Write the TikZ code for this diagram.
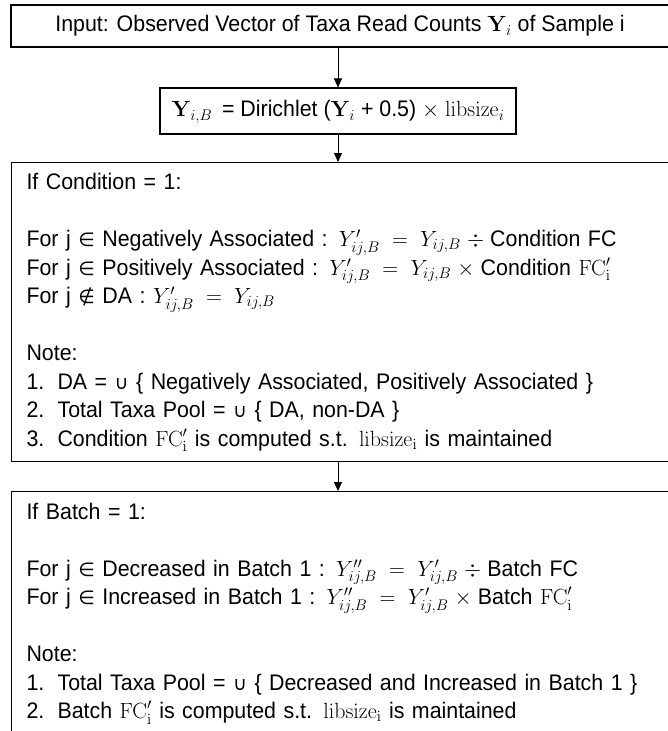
\RequirePackage{fix-cm}
\documentclass[tikz,border=0pt]{standalone}
\usepackage[no-math]{fontspec}
\setmainfont[FakeStretch=0.95]{Liberation Sans}
\newfontfamily\symfont{DejaVu Sans}
\usetikzlibrary{arrows.meta}
\newcommand{\numitem}[1]{\makebox[31pt][l]{#1}}
\newcommand{\sym}[1]{{\symfont\fontsize{19}{28.5}\selectfont #1}}
\newcommand{\mth}[1]{{\fontsize{22}{28.5}\selectfont\smash{$#1$}}}
\begin{document}
\begin{tikzpicture}[x=1pt,y=-1pt,
  box/.style={draw, line width=1.1pt, rectangle, inner ysep=0pt},
  arr/.style={-{Triangle[length=9pt,width=8pt]}, line width=0.9pt},
  every node/.style={font=\fontsize{22.5}{28.5}\selectfont}]
\clip (0,0) rectangle (668,731);
\node[box, minimum width=658, minimum height=42] (input) at (340,26)
  {Input: Observed Vector of Taxa Read Counts \mth{\mathbf{Y}_i} of Sample i};
\node[box, minimum width=356, minimum height=46] (dir) at (338,111)
  {\mth{\mathbf{Y}_{i,B}}\, = Dirichlet (\mth{\mathbf{Y}_i} + 0.5) \mth{\times} \mth{\mathrm{libsize}_i}};
\node[box, anchor=north west, minimum width=658, minimum height=299,
  text width=628, align=left, inner xsep=15] (cond) at (11,162)
  {If Condition = 1:\\[28.5pt]
   For j \sym{∈} Negatively Associated : \mth{Y'_{ij,B} \;=\; Y_{ij,B}\;\div\;}Condition FC\\
   For j \sym{∈} Positively Associated : \mth{Y'_{ij,B} \;=\; Y_{ij,B}\;\times\;}Condition \mth{\mathrm{FC}'_\mathrm{i}}\\
   For j \sym{∉} DA : \mth{Y'_{ij,B} \;=\; Y_{ij,B}}\\[28.5pt]
   Note:\\
   \numitem{1.}DA = \sym{∪} \{ Negatively Associated, Positively Associated \}\\
   \numitem{2.}Total Taxa Pool = \sym{∪} \{ DA, non-DA \}\\
   \numitem{3.}Condition \mth{\mathrm{FC}'_\mathrm{i}} is computed s.t. \mth{\mathrm{libsize}_\mathrm{i}} is maintained};
\node[box, anchor=north west, minimum width=658, minimum height=243,
  text width=628, align=left, inner xsep=15] (batch) at (11,491)
  {If Batch = 1:\\[28.5pt]
   For j \sym{∈} Decreased in Batch 1 : \mth{Y''_{ij,B} \;=\; Y'_{ij,B}\;\div\;}Batch FC\\
   For j \sym{∈} Increased in Batch 1 : \mth{Y''_{ij,B} \;=\; Y'_{ij,B}\;\times\;}Batch \mth{\mathrm{FC}'_\mathrm{i}}\\[28.5pt]
   Note:\\
   \numitem{1.}Total Taxa Pool = \sym{∪} \{ Decreased and Increased in Batch 1 \}\\
   \numitem{2.}Batch \mth{\mathrm{FC}'_\mathrm{i}} is computed s.t. \mth{\mathrm{libsize}_\mathrm{i}} is maintained};
\draw[arr] (input.south -| dir.north) -- (dir.north);
\draw[arr] (dir.south) -- (cond.north -| dir.south);
\draw[arr] (cond.south -| dir.south) -- (batch.north -| dir.south);
\end{tikzpicture}
\end{document}
